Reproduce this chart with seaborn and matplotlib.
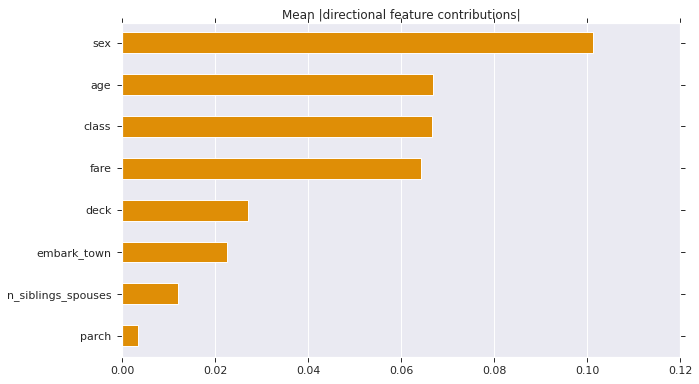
import matplotlib
matplotlib.use("Agg")
import matplotlib.pyplot as plt
import seaborn as sns
import pandas as pd

features = ["sex", "age", "class", "fare", "deck", "embark_town",
            "n_siblings_spouses", "parch"]
values = [0.1013, 0.0669, 0.0667, 0.0643, 0.0272, 0.0226, 0.0121, 0.0034]
xticks = [0.00, 0.02, 0.04, 0.06, 0.08, 0.10, 0.12]

sns.set_theme(style="darkgrid")
df = pd.DataFrame({"feature": features, "value": values})

fig = plt.figure(figsize=(699 / 70, 384 / 70), dpi=70)
ax = fig.add_axes([122 / 699, 1 - 356.7 / 384, (680 - 122) / 699, (356.7 - 23) / 384])

sns.barplot(data=df, x="value", y="feature", orient="h", color="#df8e06",
            saturation=1, width=0.5, edgecolor="white", linewidth=1, ax=ax)

ax.set_xlim(0, 0.12)
ax.set_ylim(7.5, -0.47)
ax.set_xticks(xticks)
ax.set_xticklabels([f"{t:.2f}" for t in xticks])
ax.set_xlabel("")
ax.set_ylabel("")
ax.set_title("Mean |directional feature contributions|", pad=5, fontsize=12.4)
ax.tick_params(axis="both", which="major", length=5, width=1, color="#262626",
               direction="out", top=True, right=True, bottom=True, left=True,
               labeltop=False, labelright=False, labelsize=11.3)
ax.tick_params(axis="y", pad=6)
ax.tick_params(axis="x", pad=5)

fig.savefig("out.png", dpi=70)
